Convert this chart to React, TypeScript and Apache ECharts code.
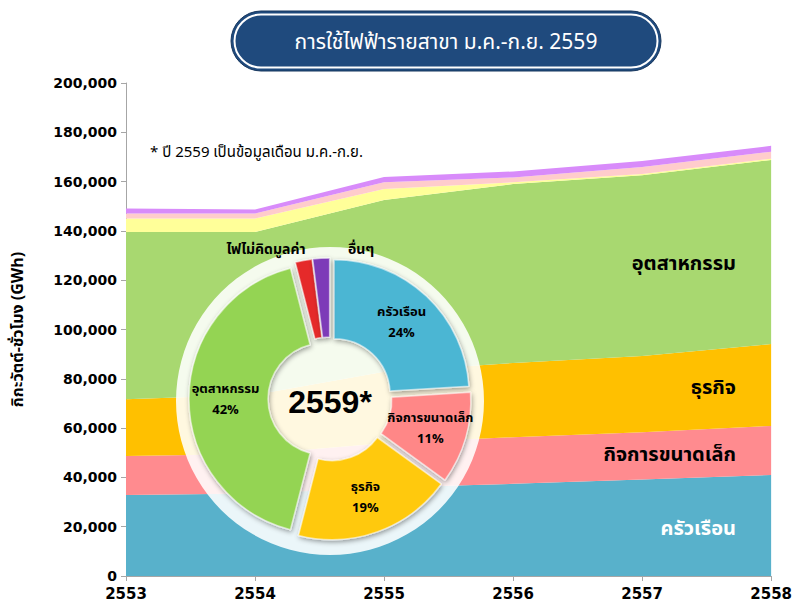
import React, { useEffect, useRef } from "react";
import * as echarts from "echarts";

const years = ["2553", "2554", "2555", "2556", "2557", "2558"];
const seriesNames = ["ครัวเรือน", "กิจการขนาดเล็ก", "ธุรกิจ", "อุตสาหกรรม", "ไฟไม่คิดมูลค่า", "สูบน้ำเพื่อการเกษตร", "อื่นๆ"];
const household = [32900, 33500, 35900, 37400, 39100, 41000];
const smallBiz = [15800, 16000, 18000, 18900, 19200, 19900];
const business = [23000, 24000, 29000, 30100, 30900, 33200];
const industry = [67900, 66100, 69600, 72600, 73400, 74700];
const freeOfCharge = [5400, 5400, 4500, 700, 500, 500];
const agriculture = [2100, 2100, 2700, 2000, 2800, 2800];
const others = [2000, 1600, 2200, 2400, 2500, 2400];
const areaColors = ["#58B1CB", "#FF8B8F", "#FFC000", "#A8D870", "#FFFF99", "#FFCCCC", "#D88BFA"];

const pieNames = ["ครัวเรือน", "กิจการขนาดเล็ก", "ธุรกิจ", "อุตสาหกรรม", "ไฟไม่คิดมูลค่า", "อื่นๆ"];
const pieShares = [24, 11, 19, 42, 2, 2];
const pieColors = ["#4CB6D3", "#FF8787", "#FFC90E", "#94D452", "#E52B2B", "#7D3AB8"];

const yTicks = { min: 0, max: 200000, interval: 20000 };
const titleText = "การใช้ไฟฟ้ารายสาขา ม.ค.-ก.ย. 2559";
const noteText = "* ปี 2559 เป็นข้อมูลเดือน ม.ค.-ก.ย.";
const yAxisName = "กิกะวัตต์-ชั่วโมง (GWh)";
const centerText = "2559*";

const THAI = "Tahoma, 'Noto Sans Thai', 'Noto Sans', 'DejaVu Sans', sans-serif";
const NUM = "'DejaVu Sans', Verdana, sans-serif";

export default function App() {
  const ref = useRef<HTMLDivElement>(null);
  useEffect(() => {
    if (!ref.current) return;
    const chart = echarts.init(ref.current, undefined, { renderer: "svg" });
    const areaData = [household, smallBiz, business, industry, freeOfCharge, agriculture, others];
    const lineSeries = areaData.map((d, i) => ({
      name: seriesNames[i],
      type: "line",
      stack: "total",
      data: d,
      symbol: "none",
      z: 2,
      lineStyle: { width: 0 },
      areaStyle: { color: areaColors[i], opacity: 1 },
      emphasis: { disabled: true },
    }));
    const rightLabels = [
      { name: seriesNames[3], y: 264, color: "#000" },
      { name: seriesNames[2], y: 388, color: "#000" },
      { name: seriesNames[1], y: 455, color: "#000" },
      { name: seriesNames[0], y: 529, color: "#fff" },
    ];
    const option: any = {
      animation: false,
      grid: { left: 126, right: 23, top: 83, bottom: 29, containLabel: false },
      xAxis: {
        type: "category",
        data: years,
        boundaryGap: false,
        axisLine: { show: true, lineStyle: { color: "#A6A6A6", width: 1 } },
        axisTick: { show: true, length: 5, lineStyle: { color: "#A6A6A6" } },
        axisLabel: { color: "#000", fontWeight: "bold", fontSize: 15, fontFamily: NUM, margin: 10 },
        splitLine: { show: false },
      },
      yAxis: {
        type: "value",
        min: yTicks.min,
        max: yTicks.max,
        interval: yTicks.interval,
        name: yAxisName,
        nameLocation: "middle",
        nameGap: 100,
        nameRotate: 90,
        nameTextStyle: { color: "#000", fontWeight: "bold", fontSize: 16, fontFamily: THAI },
        axisLine: { show: true, lineStyle: { color: "#A6A6A6", width: 1 } },
        axisTick: { show: true, length: 5, lineStyle: { color: "#A6A6A6" } },
        axisLabel: {
          color: "#000",
          fontWeight: "bold",
          fontSize: 14,
          fontFamily: NUM,
          margin: 9,
          formatter: (v: number) => v.toLocaleString("en-US"),
        },
        splitLine: { show: false },
      },
      series: [
        ...lineSeries,
        {
          name: "2559",
          type: "pie",
          z: 20,
          center: [330, 399],
          radius: [56, 135],
          startAngle: 90,
          clockwise: true,
          selectedMode: "multiple",
          selectedOffset: 6,
          avoidLabelOverlap: false,
          emphasis: { disabled: true },
          label: {
            show: true,
            position: "inside",
            color: "#000",
            fontWeight: "bold",
            fontSize: 13,
            fontFamily: THAI,
            lineHeight: 21,
            formatter: (p: any) => `${p.name}\n${Math.round(p.percent)}%`,
          },
          labelLine: { show: false },
          data: pieNames.map((n, i) => ({
            name: n,
            value: pieShares[i],
            selected: true,
            label: i >= 4 ? { show: false } : undefined,
            itemStyle: {
              color: pieColors[i],
              borderColor: "rgba(255,255,255,0.55)",
              borderWidth: 1.5,
              shadowBlur: 5,
              shadowOffsetX: 1,
              shadowOffsetY: 2,
              shadowColor: "rgba(0,0,0,0.4)",
            },
          })),
        },
      ],
      graphic: [
        {
          type: "circle",
          z: 10,
          shape: { cx: 330, cy: 401, r: 154 },
          style: { fill: "rgba(255,255,255,0.88)" },
          silent: true,
        },
        {
          type: "text",
          z: 30,
          x: 330,
          y: 402,
          style: {
            text: centerText,
            fill: "#000",
            font: "bold 32px 'Liberation Sans', Arial, sans-serif",
            align: "center",
            verticalAlign: "middle",
          },
        },
        {
          type: "text",
          z: 30,
          x: 266,
          y: 249,
          style: { text: pieNames[4], fill: "#000", font: `bold 14px ${THAI}`, align: "center", verticalAlign: "middle" },
        },
        {
          type: "text",
          z: 30,
          x: 361,
          y: 249,
          style: { text: pieNames[5], fill: "#000", font: `bold 14px ${THAI}`, align: "center", verticalAlign: "middle" },
        },
        {
          type: "text",
          z: 30,
          x: 150,
          y: 152,
          style: { text: noteText, fill: "#000", font: `15px ${THAI}`, align: "left", verticalAlign: "middle" },
        },
        ...rightLabels.map((l) => ({
          type: "text",
          z: 30,
          x: 736,
          y: l.y,
          style: { text: l.name, fill: l.color, font: `bold 20px ${THAI}`, align: "right", verticalAlign: "middle" },
        })),
        {
          type: "rect",
          z: 30,
          shape: { x: 231, y: 11, width: 430, height: 60, r: 30 },
          style: { fill: "#1F4A7D", stroke: "#17375E", lineWidth: 1 },
        },
        {
          type: "rect",
          z: 31,
          shape: { x: 234.5, y: 14.5, width: 423, height: 53, r: 26.5 },
          style: { fill: "#1F4A7D", stroke: "#FFFFFF", lineWidth: 2 },
        },
        {
          type: "text",
          z: 32,
          x: 446,
          y: 42,
          style: { text: titleText, fill: "#FFFFFF", font: `21px ${THAI}`, align: "center", verticalAlign: "middle" },
        },
      ],
    };
    chart.setOption(option);
    return () => chart.dispose();
  }, []);
  return <div ref={ref} style={{ position: "fixed", left: 0, top: 0, width: 795, height: 605, background: "#fff" }} />;
}
